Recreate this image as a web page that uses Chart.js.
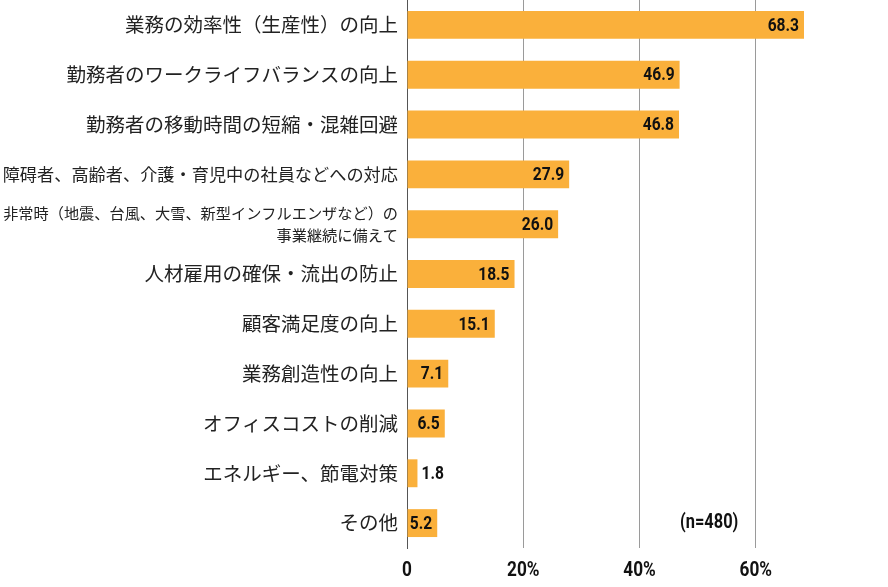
<!DOCTYPE html>
<html lang="ja">
<head>
<meta charset="utf-8">
<script src="https://cdn.jsdelivr.net/npm/chart.js@4/dist/chart.umd.min.js"></script>
<style>
  html, body { margin: 0; padding: 0; background: #fff; }
  #wrap { width: 888px; height: 587px; position: relative; }
</style>
</head>
<body>
<div id="wrap"><canvas id="chart"></canvas></div>
<script>
const categories = [
  '業務の効率性（生産性）の向上',
  '勤務者のワークライフバランスの向上',
  '勤務者の移動時間の短縮・混雑回避',
  '障碍者、高齢者、介護・育児中の社員などへの対応',
  ['非常時（地震、台風、大雪、新型インフルエンザなど）の', '事業継続に備えて'],
  '人材雇用の確保・流出の防止',
  '顧客満足度の向上',
  '業務創造性の向上',
  'オフィスコストの削減',
  'エネルギー、節電対策',
  'その他'
];
const values = [68.3, 46.9, 46.8, 27.9, 26.0, 18.5, 15.1, 7.1, 6.5, 1.8, 5.2];
const tickValues = [0, 20, 40, 60];
const sampleNote = '(n=480)';

const numFont = "Roboto, 'Liberation Sans', sans-serif";
const jp = "'Noto Sans CJK JP', 'Noto Sans', sans-serif";
const squeeze = 0.82; // no narrow font installed, so condense by hand

function narrowText(ctx, txt, x, y, align) {
  const w = ctx.measureText(txt).width * squeeze;
  let left = x;
  if (align === 'right') left = x - w;
  if (align === 'center') left = x - w / 2;
  ctx.save();
  ctx.translate(left, y);
  ctx.scale(squeeze, 1);
  ctx.textAlign = 'left';
  ctx.fillText(txt, 0, 0);
  ctx.restore();
  return w;
}

// value labels, x tick labels and the sample size note
const valueLabels = {
  id: 'valueLabels',
  afterDatasetsDraw(chart) {
    const ctx = chart.ctx;
    const meta = chart.getDatasetMeta(0);
    const xs = chart.scales.x, ys = chart.scales.y;
    ctx.save();
    ctx.fillStyle = '#111';
    ctx.textBaseline = 'middle';
    ctx.font = 'bold 19px ' + numFont;
    meta.data.forEach((bar, i) => {
      const txt = values[i].toFixed(1);
      const w = ctx.measureText(txt).width * squeeze;
      const barW = bar.x - bar.base;
      if (w + 7 > barW) {
        narrowText(ctx, txt, bar.x + 4, bar.y + 1, 'left');
      } else {
        narrowText(ctx, txt, bar.x - 5, bar.y + 1, 'right');
      }
    });
    ctx.font = 'bold 20px ' + numFont;
    narrowText(ctx, sampleNote, xs.getPixelForValue(57), ys.getPixelForValue(categories.length - 1), 'right');

    ctx.font = 'bold 21px ' + numFont;
    xs.ticks.forEach(t => {
      if (t.value > 60) return;
      const txt = t.value === 0 ? '0' : t.value + '%';
      narrowText(ctx, txt, xs.getPixelForValue(t.value), xs.top + 23, 'center');
    });
    ctx.restore();
  }
};

new Chart(document.getElementById('chart'), {
  type: 'bar',
  data: {
    labels: categories,
    datasets: [{
      data: values,
      backgroundColor: '#FAB03B',
      borderWidth: 0,
      categoryPercentage: 1,
      barPercentage: 0.56
    }]
  },
  options: {
    indexAxis: 'y',
    responsive: true,
    maintainAspectRatio: false,
    animation: false,
    layout: { padding: { top: 0, right: 16, bottom: 0, left: 0 } },
    plugins: { legend: { display: false }, tooltip: { enabled: false } },
    scales: {
      x: {
        min: 0,
        max: 80,
        afterBuildTicks: s => { s.ticks = tickValues.concat([80]).map(v => ({ value: v })); },
        afterFit: s => { s.height = 39; s.paddingLeft = 0; s.paddingRight = 0; },
        border: { display: false },
        grid: {
          drawTicks: false,
          color: c => c.tick.value === 0 ? '#555' : (c.tick.value === 80 ? 'rgba(0,0,0,0)' : '#9a9a9a')
        },
        ticks: {
          padding: 10,
          color: 'rgba(0,0,0,0)',
          font: { family: numFont, size: 20, weight: 'bold' },
          callback: v => v === 80 ? '' : (v === 0 ? '0' : v + '%')
        }
      },
      y: {
        afterFit: s => { s.width = 407; s.paddingTop = 0; s.paddingBottom = 0; },
        border: { color: '#555', width: 1 },
        grid: { display: false, drawTicks: false },
        ticks: {
          padding: 9,
          color: '#222',
          autoSkip: false,
          font: c => {
            if (c.index === 3) return { family: jp, size: 17.2, lineHeight: 1.2 };
            if (c.index === 4) return { family: jp, size: 15.2, lineHeight: 1.45 };
            return { family: jp, size: 19.5, lineHeight: 1.2 };
          }
        }
      }
    }
  },
  plugins: [valueLabels]
});
</script>
</body>
</html>
